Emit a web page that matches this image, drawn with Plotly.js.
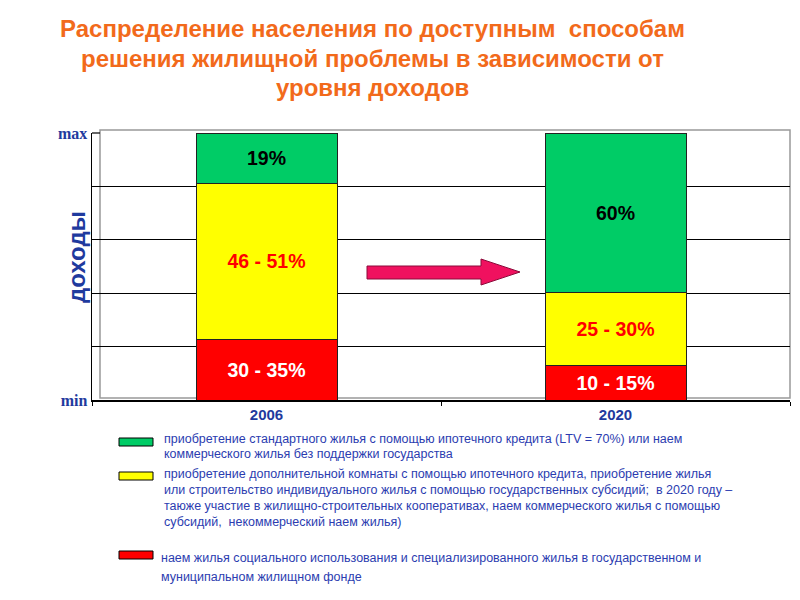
<!DOCTYPE html>
<html>
<head>
<meta charset="utf-8">
<script src="https://cdn.plot.ly/plotly-3.0.1.min.js"></script>
<style>
  html, body { margin: 0; padding: 0; background: #fff; }
  #chart { width: 800px; height: 600px; }
</style>
</head>
<body>
<div id="chart"></div>
<script>
// --- Data ---
const years = ['2006', '2020'];

// bar heights (share of the income scale)
const redValues = [22.8, 13.0];
const yellowValues = [58.4, 27.3];
const greenValues = [18.8, 59.7];

// labels written inside the bars
const redLabels = ['30 - 35%', '10 - 15%'];
const yellowLabels = ['46 - 51%', '25 - 30%'];
const greenLabels = ['19%', '60%'];

const yTickVals = [0, 20, 40, 60, 80, 100];
const yTickText = ['min', '', '', '', '', 'max'];

const titleLines = [
    'Распределение населения по доступным  способам',
    'решения жилищной проблемы в зависимости от',
    'уровня доходов'
];
const yTitle = 'доходы';

const legendGreen = [
    'приобретение стандартного жилья с помощью ипотечного кредита (LTV = 70%) или наем',
    'коммерческого жилья без поддержки государства'
];
const legendYellow = [
    'приобретение дополнительной комнаты с помощью ипотечного кредита, приобретение жилья',
    'или строительство индивидуального жилья с помощью государственных субсидий;  в 2020 году –',
    'таюже участие в жилищно-строительных кооперативах, наем коммерческого жилья с помощью',
    'субсидий,  некоммерческий наем жилья)'
];
const legendRed = [
    'наем жилья социального использования и специализированного жилья в государственном и',
    'муниципальном жилищном фонде'
];

// --- Style ---
const GREEN = '#00cc66';
const YELLOW = '#ffff00';
const RED = '#ff0000';
const BLUE = '#1f3a9e';
const LEGEND_BLUE = '#2b3cb0';
const ORANGE = '#f26a1b';

// plot area in pixels: left 92, right 790, top 133, bottom 400
const PL = 92, PR = 790, PT = 133, PB = 400;
const px = x => (x - PL) / (PR - PL);
const py = y => (PB - y) / (PB - PT);

const barFont = { family: 'Liberation Sans, Arial, sans-serif', size: 19.5 };

function barTrace(values, labels, color, textColor) {
    return {
        type: 'bar',
        x: years,
        y: values,
        text: labels,
        textposition: 'inside',
        insidetextanchor: 'middle',
        textangle: 0,
        constraintext: 'none',
        texttemplate: '<b>%{text}</b>',
        textfont: Object.assign({ color: textColor }, barFont),
        marker: { color: color, line: { color: '#222', width: 1 } },
        hoverinfo: 'skip'
    };
}

const traces = [
    barTrace(redValues, redLabels, RED, '#ffffff'),
    barTrace(yellowValues, yellowLabels, YELLOW, '#ff0000'),
    barTrace(greenValues, greenLabels, GREEN, '#000000')
];

// --- Decorations ---
const shapes = [
    // grey plot frame
    {
        type: 'rect', xref: 'paper', yref: 'paper', layer: 'below',
        x0: px(100), x1: px(790), y0: py(398), y1: py(130),
        line: { color: '#999', width: 1.5 }
    },
    // black line at the top ("max") level
    {
        type: 'line', xref: 'paper', yref: 'paper', layer: 'below',
        x0: 0, x1: px(100), y0: 1, y1: 1,
        line: { color: '#000', width: 1.2 }
    },
    // arrow between the bars
    {
        type: 'path', xref: 'paper', yref: 'paper',
        path: 'M ' + px(367) + ' ' + py(266) +
              ' L ' + px(481) + ' ' + py(266) +
              ' L ' + px(481) + ' ' + py(259) +
              ' L ' + px(520) + ' ' + py(272) +
              ' L ' + px(481) + ' ' + py(285) +
              ' L ' + px(481) + ' ' + py(279) +
              ' L ' + px(367) + ' ' + py(279) + ' Z',
        fillcolor: '#f0115f',
        line: { color: '#8a0a3a', width: 1 }
    }
];

const annotations = [];

// legend: swatch + text lines
const legendBlocks = [
    { color: GREEN, top: 438, lines: legendGreen, lineY: [439, 454], textX: 162 },
    { color: YELLOW, top: 472, lines: legendYellow, lineY: [474, 490, 506, 522], textX: 162 },
    { color: RED, top: 551, lines: legendRed, lineY: [558, 577], textX: 159 }
];

legendBlocks.forEach(b => {
    shapes.push({
        type: 'rect', xref: 'paper', yref: 'paper',
        x0: px(119), x1: px(153), y0: py(b.top + 8), y1: py(b.top),
        fillcolor: b.color,
        line: { color: '#000', width: 1 }
    });
    b.lines.forEach((line, i) => {
        annotations.push({
            xref: 'paper', yref: 'paper',
            x: px(b.textX), y: py(b.lineY[i]),
            xanchor: 'left', yanchor: 'middle',
            text: line, showarrow: false, align: 'left',
            font: { family: 'Liberation Sans, Arial, sans-serif', size: 12.5, color: LEGEND_BLUE }
        });
    });
});

// title lines
const titleY = [29, 58, 87];
titleLines.forEach((line, i) => {
    annotations.push({
        xref: 'paper', yref: 'paper',
        x: px(372), y: py(titleY[i]),
        xanchor: 'center', yanchor: 'middle',
        text: '<b>' + line + '</b>', showarrow: false,
        font: { family: 'Liberation Sans, Arial, sans-serif', size: 24, color: ORANGE }
    });
});

// y axis title
annotations.push({
    xref: 'paper', yref: 'paper',
    x: px(76), y: py(257),
    xanchor: 'center', yanchor: 'middle',
    text: '<b>' + yTitle + '</b>', showarrow: false, textangle: -90,
    font: { family: 'Liberation Sans, Arial, sans-serif', size: 24, color: BLUE }
});

const layout = {
    width: 800,
    height: 600,
    margin: { l: PL, r: 800 - PR, t: PT, b: 600 - PB, pad: 0 },
    paper_bgcolor: '#ffffff',
    plot_bgcolor: 'rgba(0,0,0,0)',
    barmode: 'stack',
    bargap: 0.596,
    showlegend: false,
    xaxis: {
        type: 'category',
        showline: true,
        linecolor: '#000',
        linewidth: 1.5,
        ticks: 'outside',
        tickson: 'boundaries',
        ticklen: 4,
        tickcolor: '#000',
        showgrid: false,
        tickfont: { family: 'Liberation Sans, Arial, sans-serif', size: 15, color: BLUE, weight: 'bold' }
    },
    yaxis: {
        range: [0, 100],
        tickvals: yTickVals,
        ticktext: yTickText,
        showline: true,
        linecolor: '#000',
        linewidth: 1.5,
        ticks: '',
        showgrid: true,
        gridcolor: '#000',
        gridwidth: 1.2,
        zeroline: false,
        tickfont: { family: 'Liberation Serif, Times New Roman, serif', size: 16, color: BLUE, weight: 'bold' }
    },
    shapes: shapes,
    annotations: annotations
};

Plotly.newPlot('chart', traces, layout, { displayModeBar: false, staticPlot: true });
</script>
</body>
</html>
